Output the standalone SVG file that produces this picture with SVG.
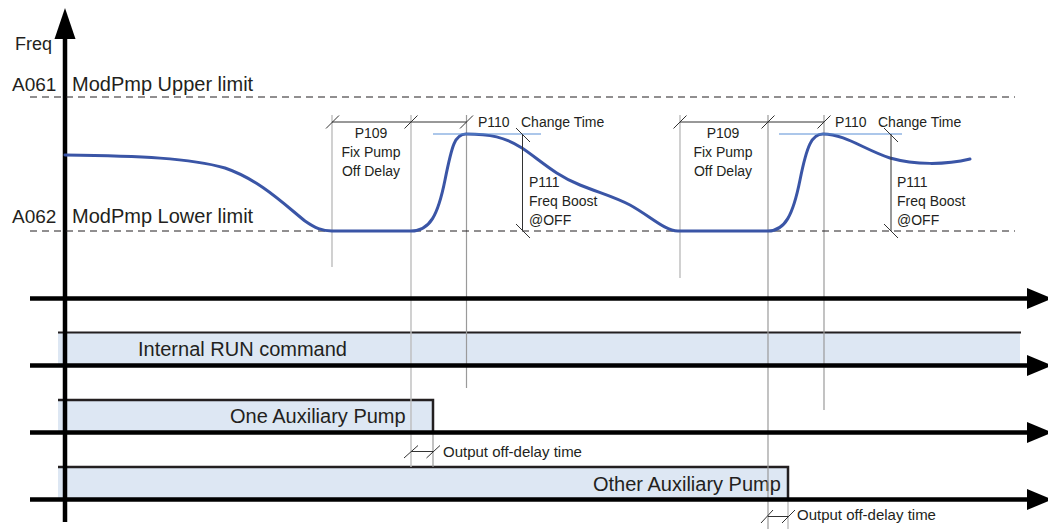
<svg xmlns="http://www.w3.org/2000/svg" width="1048" height="529" viewBox="0 0 1048 529">
<style>
text{font-family:"Liberation Sans",Arial,sans-serif;fill:#231f20}
.big{font-size:20px}
.sm{font-size:14px}
.xs{font-size:15px}
.ax{stroke:#000;stroke-width:4.5;fill:none}
.dash{stroke:#231f20;stroke-width:1;stroke-dasharray:7 5;fill:none}
.guide{stroke:#9a9a9a;stroke-width:1.2;fill:none}
.guideL{stroke:#bdbdbd;stroke-width:1.4;fill:none}
.dim{stroke:#333;stroke-width:1;fill:none}
.band{fill:#dde7f3}
.edge{stroke:#231f20;stroke-width:2.5;fill:none}
.curve{stroke:#3a55a6;stroke-width:3;fill:none;stroke-linecap:round}
.peak{stroke:#5b8fd6;stroke-width:1.2}
</style>

<g id="bands">
  <g id="run-band">
    <rect class="band" x="58" y="333" width="962" height="32"/>
    <line class="edge" x1="58" y1="332.5" x2="1021" y2="332.5" style="stroke-width:2"/>
    <text class="big" x="138" y="356">Internal RUN command</text>
  </g>
  <g id="one-aux-band">
    <rect class="band" x="58" y="400" width="375" height="32"/>
    <polyline class="edge" points="58,400 433,400 433,432"/>
    <text class="big" x="230" y="423">One Auxiliary Pump</text>
  </g>
  <g id="other-aux-band">
    <rect class="band" x="58" y="467" width="730" height="32"/>
    <polyline class="edge" points="58,467 788,467 788,499"/>
    <text class="big" x="593" y="491">Other Auxiliary Pump</text>
  </g>
</g>

<g id="connectors">
  <line class="guideL" x1="332" y1="115" x2="332" y2="267"/>
  <line class="guideL" x1="411" y1="115" x2="411" y2="467"/>
  <line class="guide" x1="466.5" y1="115" x2="466.5" y2="388"/>
  <line class="guide" x1="433" y1="432" x2="433" y2="467"/>
  <line class="guideL" x1="680" y1="115" x2="680" y2="278"/>
  <line class="guide" x1="768" y1="115" x2="768" y2="529"/>
  <line class="guide" x1="824" y1="115" x2="824" y2="410"/>
  <line class="guideL" x1="788" y1="499" x2="788" y2="529"/>
</g>

<g id="axes">
  <line class="ax" x1="65" y1="522" x2="65" y2="36"/>
  <polygon points="54.5,39 65,8 75.5,39" fill="#000"/>
  <line class="ax" x1="30" y1="298.5" x2="1030" y2="298.5"/>
  <polygon points="1027,288 1052,298.5 1027,309" fill="#000"/>
  <line class="ax" x1="30" y1="365.5" x2="1030" y2="365.5"/>
  <polygon points="1027,355 1052,365.5 1027,376" fill="#000"/>
  <line class="ax" x1="30" y1="432.5" x2="1030" y2="432.5"/>
  <polygon points="1027,422 1052,432.5 1027,443" fill="#000"/>
  <line class="ax" x1="30" y1="499.5" x2="1030" y2="499.5"/>
  <polygon points="1027,489 1052,499.5 1027,510" fill="#000"/>
  <text x="15" y="50" style="font-size:18px">Freq</text>
</g>

<g id="limits">
  <line class="dash" x1="30" y1="97" x2="1015" y2="97"/>
  <line class="dash" x1="30" y1="231" x2="1015" y2="231"/>
  <text x="12" y="91" style="font-size:19px">A061</text>
  <text class="big" x="72" y="91">ModPmp Upper limit</text>
  <text x="12" y="223" style="font-size:19px">A062</text>
  <text class="big" x="72" y="223">ModPmp Lower limit</text>
</g>

<g id="freq-curve">
  <path class="curve" d="M65,155 C140,156 190,158 225,168 C260,180 285,205 305,221 C315,228 322,231 332,231 L411,231 C430,231 438,215 445,180 C452,145 455,134 466,134 C490,134 505,137 522,148 C540,160 555,175 580,185 C600,193 615,197 630,205 C650,216 665,231 678,231 L768,231 C785,231 793,215 800,180 C807,145 812,134 823,134 C845,134 865,150 890,158 C915,165 945,165 970,159"/>
</g>

<g id="cycle1">
  <line class="dim" x1="332" y1="122" x2="466.5" y2="122"/>
  <line class="dim" x1="326" y1="128.5" x2="339" y2="115.5"/>
  <line class="dim" x1="404.5" y1="128.5" x2="417.5" y2="115.5"/>
  <line class="dim" x1="460" y1="128.5" x2="473" y2="115.5"/>
  <text class="sm" x="371" y="138" text-anchor="middle">P109</text>
  <text class="sm" x="371" y="157" text-anchor="middle">Fix Pump</text>
  <text class="sm" x="371" y="176" text-anchor="middle">Off Delay</text>
  <text class="sm" x="478" y="127">P110</text>
  <text class="sm" x="521" y="127">Change Time</text>
  <line class="peak" x1="433" y1="134" x2="541" y2="134"/>
  <line class="dim" x1="522.5" y1="134" x2="522.5" y2="231"/>
  <line class="dim" x1="516" y1="128" x2="530" y2="142"/>
  <line class="dim" x1="516" y1="224" x2="530" y2="238"/>
  <text class="sm" x="529" y="187">P111</text>
  <text class="sm" x="529" y="206">Freq Boost</text>
  <text class="sm" x="529" y="225">@OFF</text>
</g>

<g id="cycle2">
  <line class="dim" x1="680" y1="122" x2="824" y2="122"/>
  <line class="dim" x1="673.5" y1="128.5" x2="686.5" y2="115.5"/>
  <line class="dim" x1="761.5" y1="128.5" x2="774.5" y2="115.5"/>
  <line class="dim" x1="817.5" y1="128.5" x2="830.5" y2="115.5"/>
  <text class="sm" x="723" y="138" text-anchor="middle">P109</text>
  <text class="sm" x="723" y="157" text-anchor="middle">Fix Pump</text>
  <text class="sm" x="723" y="176" text-anchor="middle">Off Delay</text>
  <text class="sm" x="835" y="127">P110</text>
  <text class="sm" x="878" y="127">Change Time</text>
  <line class="peak" x1="779" y1="134" x2="902" y2="134"/>
  <line class="dim" x1="891" y1="134" x2="891" y2="231"/>
  <line class="dim" x1="884" y1="128" x2="898" y2="142"/>
  <line class="dim" x1="884" y1="224" x2="898" y2="238"/>
  <text class="sm" x="897" y="187">P111</text>
  <text class="sm" x="897" y="206">Freq Boost</text>
  <text class="sm" x="897" y="225">@OFF</text>
</g>

<g id="off-delay-1">
  <line class="dim" x1="411" y1="451.5" x2="433" y2="451.5"/>
  <line class="dim" x1="404" y1="458" x2="418" y2="445.5"/>
  <line class="dim" x1="426.5" y1="458" x2="440" y2="445.5"/>
  <text class="xs" x="443" y="457">Output off-delay time</text>
</g>

<g id="off-delay-2">
  <line class="dim" x1="768" y1="516.5" x2="788" y2="516.5"/>
  <line class="dim" x1="761" y1="523" x2="773" y2="510"/>
  <line class="dim" x1="782" y1="523" x2="795" y2="510"/>
  <text class="xs" x="797" y="520">Output off-delay time</text>
</g>
</svg>
